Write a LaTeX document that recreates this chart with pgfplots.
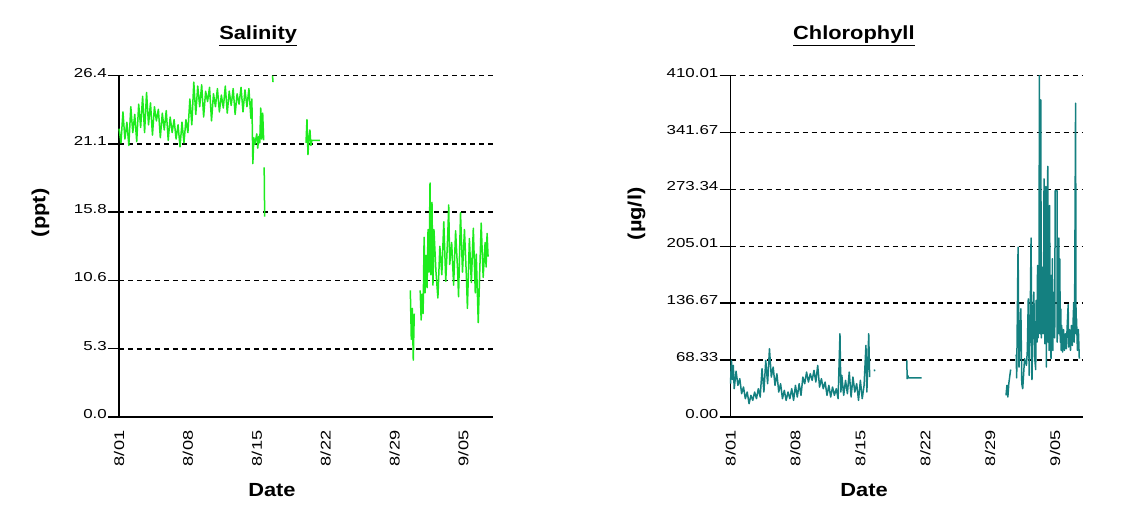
\documentclass[border=0pt]{standalone}
\usepackage{fontspec}
\setmainfont{Liberation Sans}
\newfontfamily\tickfont{Liberation Sans}[FakeStretch=1.3]
\newfontfamily\labfont{Liberation Sans}[FakeStretch=1.15]
\usepackage{pgfplots}
\usepackage{pgfplotstable}
\pgfplotsset{compat=1.18}
\definecolor{salc}{RGB}{30,235,30}
\definecolor{chlc}{RGB}{20,128,128}

\pgfplotstableread{
x y
0.0 22.3
0.2 21.2
0.4 23.6
0.6 21.5
0.8 22.8
1.0 21.0
1.2 24.0
1.4 22.0
1.6 23.4
1.8 21.3
2.0 24.2
2.2 22.4
2.4 24.8
2.6 22.0
2.8 25.1
3.0 22.6
3.2 24.3
3.4 21.8
3.6 24.0
3.8 22.9
4.0 23.8
4.2 21.6
4.4 23.5
4.6 22.2
4.8 23.7
5.0 21.4
5.2 23.2
5.4 22.0
5.6 23.0
5.8 21.5
6.0 22.6
6.2 20.9
6.4 22.8
6.6 21.2
6.8 23.0
7.0 22.0
7.2 24.6
7.4 22.6
7.6 25.9
7.8 23.4
8.0 25.6
8.2 24.0
8.4 25.7
8.6 23.2
8.8 25.2
9.0 24.4
9.2 25.5
9.4 22.9
9.6 25.0
9.8 24.0
10.0 25.4
10.2 23.6
10.4 24.9
10.6 23.9
10.8 25.6
11.0 23.5
11.2 25.2
11.4 24.1
11.6 25.4
11.8 23.4
12.0 25.0
12.2 24.2
12.4 25.5
12.6 23.6
12.8 25.3
13.0 24.0
13.2 25.4
13.4 23.1
13.5 24.6
13.6 19.6
13.7 21.6
13.8 21.1
14.0 21.9
14.1 20.8
14.2 21.7
14.3 21.2
14.4 23.9
14.5 21.5
14.6 23.5
14.7 21.4
14.72 nan
14.75 19.3
14.8 15.5
14.9 nan
15.6 26.4
15.65 25.9
15.7 nan
19.0 21.2
19.1 23.0
19.2 20.3
19.3 21.6
19.4 22.2
19.5 21.0
19.6 21.4
20.4 21.4
20.5 nan
29.6 9.8
29.7 6.0
29.8 8.4
29.9 4.4
30.0 8.0
30.2 nan
30.6 9.8
30.7 7.5
30.8 9.5
30.9 8.0
31.0 13.9
31.1 9.6
31.2 12.5
31.3 10.0
31.4 14.5
31.5 11.2
31.6 18.1
31.7 11.0
31.8 16.6
31.9 10.2
32.0 14.5
32.2 11.3
32.4 9.2
32.6 13.2
32.8 11.0
33.0 15.1
33.2 10.5
33.4 14.0
33.5 16.4
33.6 11.8
33.8 13.5
34.0 10.2
34.2 14.4
34.4 11.4
34.5 9.3
34.7 15.8
34.9 11.2
35.1 14.5
35.3 10.8
35.4 8.4
35.6 13.8
35.8 10.4
36.0 14.6
36.2 9.6
36.3 12.6
36.5 7.3
36.8 15.0
37.0 10.8
37.2 13.5
37.3 11.6
37.4 14.2
37.5 12.4
}\saltable

\pgfplotstableread{
x y
0.0 40
0.1 68
0.2 45
0.3 62
0.4 34
0.6 55
0.8 38
1.0 46
1.2 28
1.4 36
1.6 22
1.8 30
2.0 16
2.2 26
2.4 20
2.6 30
2.8 22
3.0 34
3.2 24
3.4 58
3.6 30
3.8 68
4.0 40
4.2 82
4.4 48
4.6 60
4.8 38
5.0 52
5.2 30
5.4 40
5.6 22
5.8 32
6.0 20
6.2 30
6.4 22
6.6 34
6.8 20
7.0 38
7.2 24
7.4 40
7.6 26
7.8 48
8.0 40
8.2 54
8.4 42
8.6 52
8.8 44
9.0 56
9.2 42
9.4 62
9.6 36
9.8 46
10.0 34
10.2 42
10.4 26
10.6 38
10.8 24
11.0 36
11.2 26
11.4 34
11.6 22
11.8 100
11.9 30
12.0 50
12.2 26
12.4 44
12.6 28
12.8 54
13.0 24
13.2 48
13.4 30
13.6 40
13.8 20
14.0 44
14.2 22
14.4 38
14.6 86
14.7 30
14.9 100
15.0 48
15.2 nan
15.5 57
15.55 55
15.6 nan
19.0 68
19.05 46
19.1 50
19.2 47
20.6 47
20.8 nan
29.7 26
29.8 38
29.9 24
30.0 40
30.2 57
30.4 nan
30.8 75
30.85 47
31.0 204
31.1 60
31.3 130
31.4 40
31.5 34
31.7 70
31.9 62
32.0 80
32.1 142
32.2 50
32.3 110
32.4 215
32.5 45
32.6 120
32.7 150
32.8 70
32.90 57
32.95 140
33.00 120
33.05 90
33.10 182
33.15 95
33.20 160
33.25 100
33.30 410
33.35 130
33.40 100
33.45 381
33.50 95
33.55 170
33.60 110
33.65 180
33.70 100
33.75 150
33.80 286
33.85 120
33.90 88
33.95 160
34.00 277
34.05 60
34.10 160
34.15 100
34.20 301
34.25 90
34.30 150
34.35 80
34.40 254
34.45 100
34.50 170
34.55 70
34.60 170
34.65 90
34.70 190
34.75 80
34.80 140
34.85 100
34.90 150
34.95 95
35.00 272
35.20 272
35.22 90
35.27 150
35.32 100
35.40 215
35.45 100
35.50 190
35.55 90
35.60 130
35.65 80
35.70 110
35.80 78
35.90 105
36.00 80
36.10 100
36.20 82
36.30 110
36.40 135
36.45 84
36.55 105
36.65 80
36.75 110
36.85 86
36.95 120
37.00 137
37.05 90
37.10 137
37.20 377
37.25 100
37.30 118
37.40 80
37.50 105
37.60 70
}\chltable

\pgfplotsset{
  chartstyle/.style={
    scale only axis,
    axis x line*=bottom,
    axis y line*=left,
    axis line style={-, line width=1.5pt, black},
    xmin=0, xmax=38,
    xtick={0,7,14,21,28,35},
    xticklabels={8/01,8/08,8/15,8/22,8/29,9/05},
    xtick style={draw=none},
    ytick style={line width=1.5pt, black},
    tick align=outside,
    major tick length=11pt,
    ymajorgrids,
    major grid style={black, line width=1.6pt, dash pattern=on 5pt off 4pt},
    xticklabel style={font=\tickfont\fontsize{14}{16}\selectfont, rotate=90, anchor=east, inner sep=1pt, xshift=-1.5pt},
    yticklabel style={font=\tickfont\fontsize{13}{15}\selectfont, inner sep=1pt, yshift=3pt},
    label style={font=\labfont\bfseries\fontsize{19}{21}\selectfont},
    title style={font=\labfont\bfseries\fontsize{19}{21}\selectfont, anchor=base},
    unbounded coords=jump,
    clip=false,
  }
}

\begin{document}
\begin{tikzpicture}
\useasboundingbox (0,0) rectangle (1138pt,518pt);
\begin{axis}[chartstyle,
  at={(119pt,101pt)}, anchor=south west,
  width=374pt, height=341.3pt,
  ymin=0, ymax=26.4,
  ytick={0,5.28,10.56,15.84,21.12,26.4},
  yticklabels={0.0,5.3,10.6,15.8,21.1,26.4},
  title={\underline{Salinity}},
  title style={at={(0.372,1)}, yshift=29.7pt},
  xlabel={Date},
  xlabel style={at={(0.409,0)}, anchor=base, yshift=-80pt},
  ylabel={(ppt)},
  ylabel style={at={(0,0.598)}, anchor=center, yshift=78.5pt},
]
\addplot[salc, line width=1.5pt, line join=round] table[x=x,y=y] {\saltable};
\end{axis}
\begin{axis}[chartstyle,
  at={(730.5pt,101pt)}, anchor=south west,
  width=352.5pt, height=341.3pt,
  ymin=0, ymax=410.01,
  ytick={0,68.335,136.67,205.005,273.34,341.675,410.01},
  yticklabels={0.00,68.33,136.67,205.01,273.34,341.67,410.01},
  title={\underline{Chlorophyll}},
  title style={at={(0.350,1)}, yshift=29.7pt},
  xlabel={Date},
  xlabel style={at={(0.379,0)}, anchor=base, yshift=-80pt},
  ylabel={(µg/l)},
  ylabel style={at={(0,0.595)}, anchor=center, yshift=94pt},
]
\addplot[chlc, line width=1.5pt, line join=round] table[x=x,y=y] {\chltable};
\end{axis}
\end{tikzpicture}
\end{document}
